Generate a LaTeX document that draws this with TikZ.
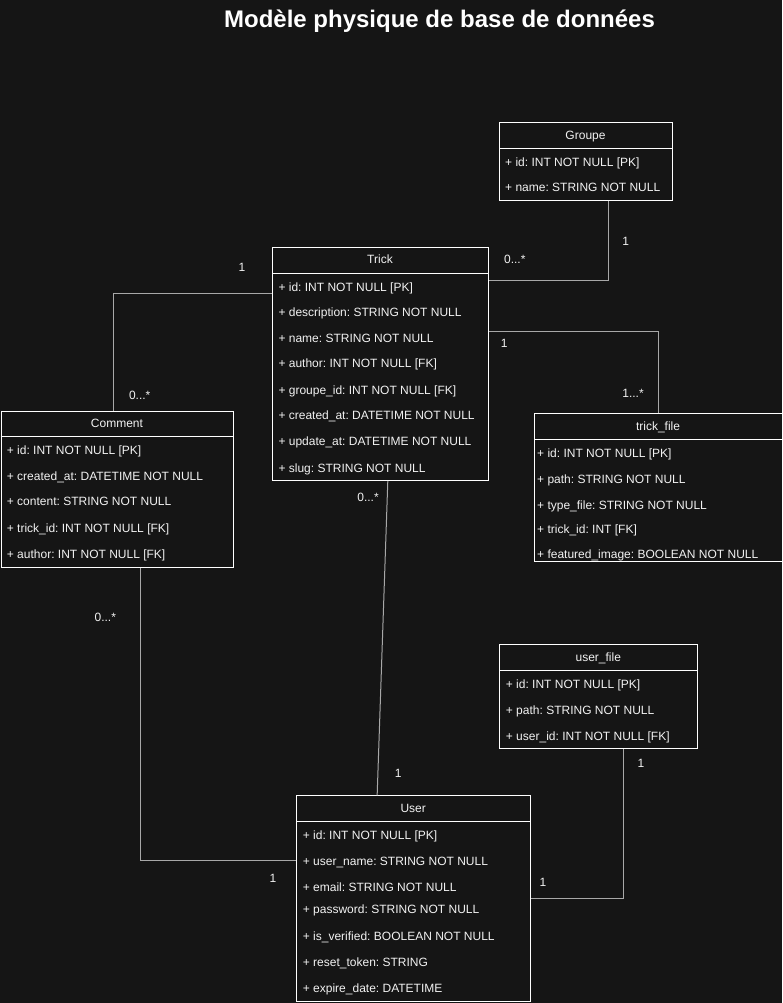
\documentclass[tikz,border=0pt]{standalone}
\usepackage{fontspec}
\setmainfont{Liberation Sans}
\usetikzlibrary{calc}
\definecolor{canvas}{HTML}{151515}
\definecolor{wire}{HTML}{A8A8A8}
\definecolor{ink}{HTML}{F2F2F2}
\begin{document}
\frenchspacing
\begin{tikzpicture}[x=1pt,y=-1pt,
  table/.style={draw=white, fill=canvas, line width=1pt, anchor=north west, inner sep=0pt},
  sep/.style={draw=white, line width=1pt},
  head/.style={text=ink, font=\fontsize{12}{14}\selectfont, anchor=base, inner sep=0pt},
  field/.style={text=ink, font=\fontsize{12}{14}\selectfont, anchor=base west, inner sep=0pt},
  card/.style={text=ink, font=\fontsize{12}{14}\selectfont, anchor=base, inner sep=0pt},
  link/.style={draw=wire, line width=1pt}]

% canvas
\fill[canvas] (0,0) rectangle (782,1003);
\useasboundingbox (0,0) rectangle (782,1003);

% title
\node[text=white, font=\bfseries\fontsize{24}{28}\selectfont, anchor=base, inner sep=0pt]
  (title) at (439.5,27.7) {Modèle physique de base de données};

% ---- Groupe ----
\node[table, minimum width=172.4pt, minimum height=77.7pt] (groupe) at (499.3,122.3) {};
\draw[sep] ([yshift=-26pt]groupe.north west) -- ([yshift=-26pt]groupe.north east);
\node[head] (groupe-h) at (585.5,139.5) {Groupe};
\node[field] (groupe-1) at (505,166.2) {+ id: INT NOT NULL [PK]};
\node[field] (groupe-2) at (505,191.8) {+ name: STRING NOT NULL};

% ---- Trick ----
\node[table, minimum width=215.4pt, minimum height=232.7pt] (trick) at (272.3,247.3) {};
\draw[sep] ([yshift=-26pt]trick.north west) -- ([yshift=-26pt]trick.north east);
\node[head] (trick-h) at (380,263.8) {Trick};
\node[field] (trick-1) at (278.3,291.2) {+ id: INT NOT NULL [PK]};
\node[field] (trick-2) at (278.3,316.8) {+ description: STRING NOT NULL};
\node[field] (trick-3) at (278.3,342.2) {+ name: STRING NOT NULL};
\node[field] (trick-4) at (278.3,367.8) {+ author: INT NOT NULL [FK]};
\node[field] (trick-5) at (278.3,394.2) {+ groupe\_id: INT NOT NULL [FK]};
\node[field] (trick-6) at (278.3,419.8) {+ created\_at: DATETIME NOT NULL};
\node[field] (trick-7) at (278.3,445.8) {+ update\_at: DATETIME NOT NULL};
\node[field] (trick-8) at (278.3,472.2) {+ slug: STRING NOT NULL};

% ---- Comment ----
\node[table, minimum width=232.6pt, minimum height=156pt] (comment) at (0.7,410.7) {};
\draw[sep] ([yshift=-25.3pt]comment.north west) -- ([yshift=-25.3pt]comment.north east);
\node[head] (comment-h) at (117,427.2) {Comment};
\node[field] (comment-1) at (6.7,454.5) {+ id: INT NOT NULL [PK]};
\node[field] (comment-2) at (6.7,480.5) {+ created\_at: DATETIME NOT NULL};
\node[field] (comment-3) at (6.7,505.5) {+ content: STRING NOT NULL};
\node[field] (comment-4) at (6.7,532.8) {+ trick\_id: INT NOT NULL [FK]};
\node[field] (comment-5) at (6.7,558.8) {+ author: INT NOT NULL [FK]};

% ---- trick_file ----
\node[table, minimum width=247.4pt, minimum height=147.7pt] (tfile) at (534.3,413.3) {};
\draw[sep] ([yshift=-25.7pt]tfile.north west) -- ([yshift=-25.7pt]tfile.north east);
\node[head] (tfile-h) at (658,430.5) {trick\_file};
\node[field] (tfile-1) at (537,457.8) {+ id: INT NOT NULL [PK]};
\node[field] (tfile-2) at (537,483.5) {+ path: STRING NOT NULL};
\node[field] (tfile-3) at (537,509.5) {+ type\_file: STRING NOT NULL};
\node[field] (tfile-4) at (537,533.2) {+ trick\_id: INT [FK]};
\node[field] (tfile-5) at (537,558.8) {+ featured\_image: BOOLEAN NOT NULL};

% ---- user_file ----
\node[table, minimum width=198pt, minimum height=104pt] (ufile) at (499.3,644.3) {};
\draw[sep] ([yshift=-26.4pt]ufile.north west) -- ([yshift=-26.4pt]ufile.north east);
\node[head] (ufile-h) at (598.3,661.2) {user\_file};
\node[field] (ufile-1) at (505.7,688.5) {+ id: INT NOT NULL [PK]};
\node[field] (ufile-2) at (505.7,714.5) {+ path: STRING NOT NULL};
\node[field] (ufile-3) at (505.7,740.5) {+ user\_id: INT NOT NULL [FK]};

% ---- User ----
\node[table, minimum width=233.7pt, minimum height=205.7pt] (user) at (296.3,795.3) {};
\draw[sep] ([yshift=-26pt]user.north west) -- ([yshift=-26pt]user.north east);
\node[head] (user-h) at (413.2,812.2) {User};
\node[field] (user-1) at (302.7,839.5) {+ id: INT NOT NULL [PK]};
\node[field] (user-2) at (302.7,865.2) {+ user\_name: STRING NOT NULL};
\node[field] (user-3) at (302.7,891.2) {+ email: STRING NOT NULL};
\node[field] (user-4) at (302.7,913.8) {+ password: STRING NOT NULL};
\node[field] (user-5) at (302.7,940.2) {+ is\_verified: BOOLEAN NOT NULL};
\node[field] (user-6) at (302.7,966.2) {+ reset\_token: STRING};
\node[field] (user-7) at (302.7,992.2) {+ expire\_date: DATETIME};

% ---- relations ----
\draw[link] ([yshift=-46pt]trick.north west) -| ([xshift=-4pt]comment.north);
\draw[link] ([yshift=-83.7pt]trick.north east) -| (tfile.north);
\draw[link] ([xshift=22.8pt]groupe.south) |- ([yshift=-33.3pt]trick.north east);
\draw[link] ([xshift=7.3pt]trick.south) -- ([xshift=-36.5pt]user.north);
\draw[link] ([xshift=22.5pt]comment.south) |- ([yshift=-64.7pt]user.north west);
\draw[link] ([xshift=25pt]ufile.south) |- ([yshift=-103.5pt]user.north east);

% ---- cardinalities ----
\node[card] (c1)  at (242,271.3)   {1};
\node[card] (c2)  at (139.7,399.3) {0...*};
\node[card] (c3)  at (625.7,245.3) {1};
\node[card] (c4)  at (514.8,263.3) {0...*};
\node[card] (c5)  at (504.3,347.6) {1};
\node[card] (c6)  at (633,397)     {1...*};
\node[card] (c7)  at (368,501)     {0...*};
\node[card] (c8)  at (398.3,777)   {1};
\node[card] (c9)  at (105.3,621)   {0...*};
\node[card] (c10) at (273,882.3)   {1};
\node[card] (c11) at (641,767.3)   {1};
\node[card] (c12) at (543,886.3)   {1};
\end{tikzpicture}
\end{document}
